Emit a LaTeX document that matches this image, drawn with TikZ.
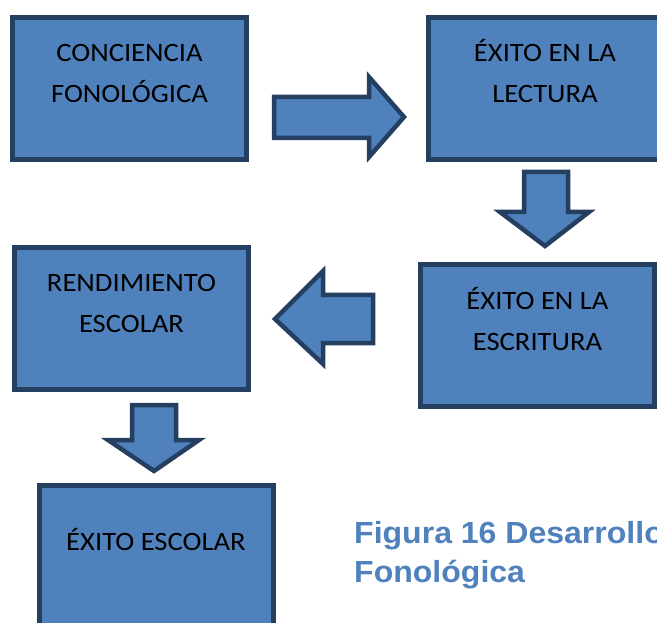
\documentclass[tikz,border=0pt]{standalone}
\usepackage{fontspec}
\setmainfont{Carlito}
\newfontfamily\boxfont[FakeStretch=1.08]{Carlito}
\newfontfamily\captionfont[FakeStretch=1.05]{Liberation Sans}
\usetikzlibrary{positioning}

\definecolor{cajaazul}{HTML}{4F81BD}
\definecolor{bordeazul}{HTML}{243F60}

\tikzset{
  etapa/.style={draw=bordeazul, fill=cajaazul, line width=5pt,
    minimum width=234pt, minimum height=142pt, inner sep=0pt},
  texto/.style={align=center, anchor=base, inner sep=0pt,
    font=\boxfont\fontsize{26.5}{41}\selectfont},
  flecha/.style={draw=bordeazul, fill=cajaazul, line width=4.5pt, line join=miter},
}

\begin{document}
\begin{tikzpicture}[x=1pt,y=-1pt]

  \useasboundingbox (0,0) rectangle (657,623);
  \clip (0,0) rectangle (657,623);

%%%%%%%%%%%%%%%%%%%%%%%%%%%%%%%%%%%%%%%%%%
  % Boxes
  \node[etapa] (conciencia) at (129.5,88.5) {};
  \node[etapa] (lectura)    at (545,88.5)   {};
  \node[etapa] (escritura)  at (537.5,335.5) {};
  \node[etapa] (rendimiento) at (131.5,318.5) {};
  \node[etapa] (exito)      at (156,556.5)  {};

  % Texts (base = last line)
  \node[texto] (tconciencia) at ([yshift=-88pt]conciencia.north) {CONCIENCIA\\FONOLÓGICA};
  \node[texto] (tlectura) at ([yshift=-88pt]lectura.north) {ÉXITO EN LA\\LECTURA};
  \node[texto] (tescritura) at ([yshift=-88pt]escritura.north) {ÉXITO EN LA\\ESCRITURA};
  \node[texto] (trendimiento) at ([yshift=-88pt]rendimiento.north) {RENDIMIENTO\\ESCOLAR};
  \node[texto] (texito) at ([yshift=-67pt]exito.north) {ÉXITO ESCOLAR};

%%%%%%%%%%%%%%%%%%%%%%%%%%%%%%%%%%%%%%%%%%
  % Block arrows
  \draw[flecha] (274,97) -- (369,97) -- (369,77) -- (404,117)
    -- (369,157) -- (369,138) -- (274,138) -- cycle;
  \draw[flecha] (524,172) -- (568,172) -- (568,212) -- (589,212)
    -- (545,246) -- (500,212) -- (524,212) -- cycle;
  \draw[flecha] (373,295) -- (323,295) -- (323,271) -- (275,319)
    -- (323,364) -- (323,343) -- (373,343) -- cycle;
  \draw[flecha] (132,405) -- (176,405) -- (176,440) -- (199,440)
    -- (154,471) -- (108,440) -- (132,440) -- cycle;

  % Caption
  \node[anchor=base west, align=left, inner sep=0pt, text=cajaazul,
    font=\captionfont\bfseries\fontsize{30.5}{39}\selectfont] (pie) at (354,582)
    {Figura 16 Desarrollo\\Fonológica};

\end{tikzpicture}
\end{document}
